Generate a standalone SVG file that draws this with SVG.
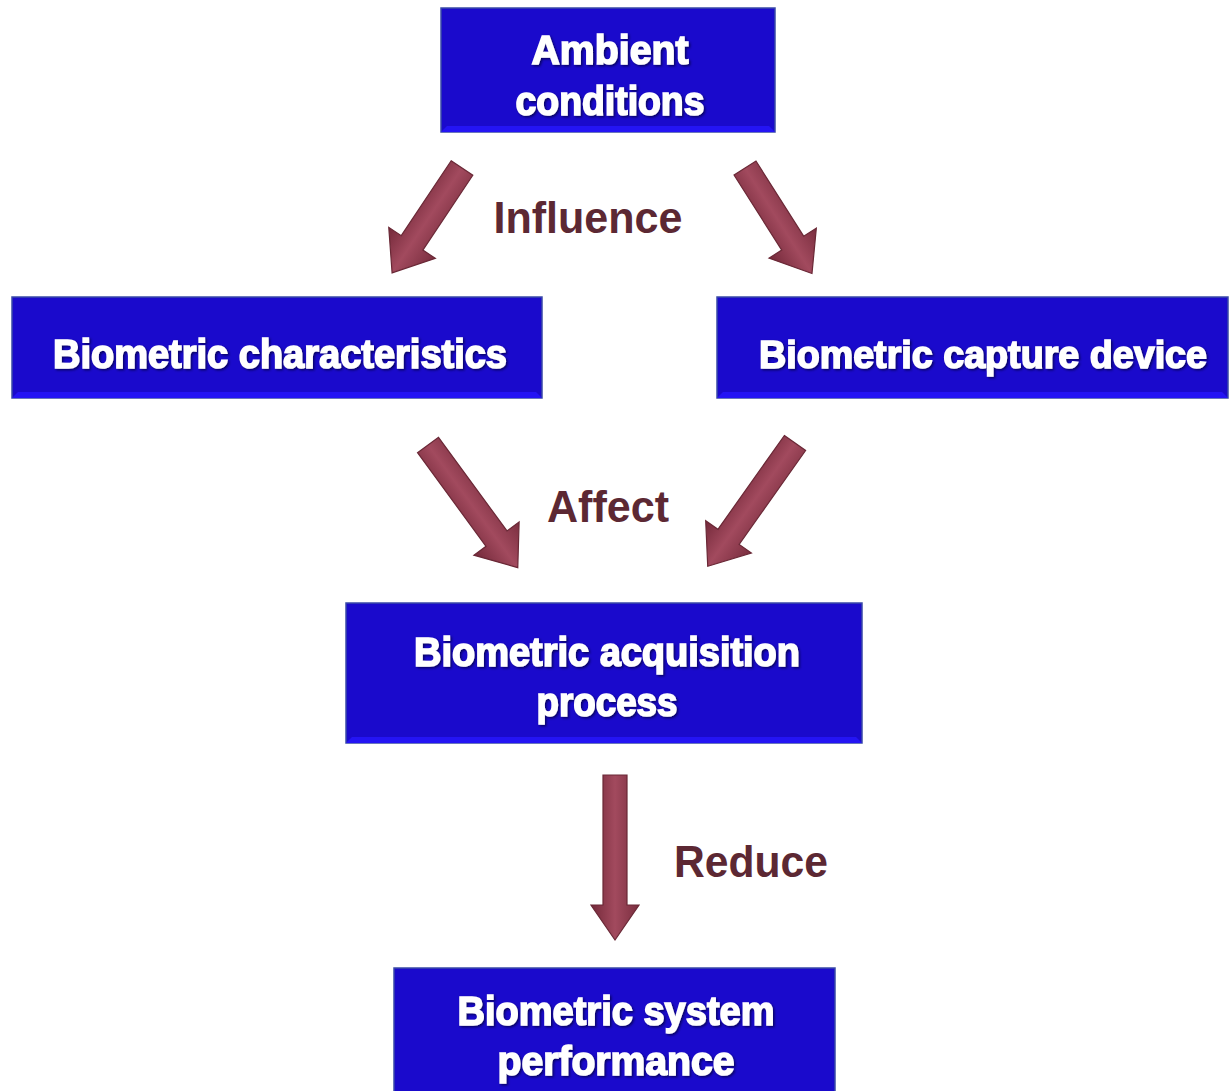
<svg xmlns="http://www.w3.org/2000/svg" width="1231" height="1091" viewBox="0 0 1231 1091">
<defs>
<style>
.box{fill:#1a0acc;stroke:#3a4aa8;stroke-width:1.5}
.bev{fill:#2414f4}
.nt{font-family:"Liberation Sans",Arial,sans-serif;font-weight:bold;font-size:40px;fill:#ffffff;stroke:#ffffff;stroke-width:1.6;text-anchor:middle;filter:url(#sh)}
.lb{font-family:"Liberation Sans",Arial,sans-serif;font-weight:bold;font-size:45px;fill:#5c2833;text-anchor:middle}
.arr{fill:url(#ag);stroke:#6a2836;stroke-width:1.2}
</style>
<filter id="sh" x="-5%" y="-20%" width="110%" height="140%">
<feDropShadow dx="1.5" dy="1.5" stdDeviation="1" flood-color="#000033" flood-opacity="0.7"/>
</filter>
<linearGradient id="ag" x1="0" y1="0" x2="1" y2="0">
<stop offset="0" stop-color="#74293a"/>
<stop offset="0.5" stop-color="#a24a5e"/>
<stop offset="1" stop-color="#7a2e3f"/>
</linearGradient>
</defs>
<rect width="1231" height="1091" fill="#ffffff"/>

<g id="connectors">
<path class="arr" transform="translate(462,168) rotate(33.7)" d="M -13 0 L 13 0 L 13 90 L 28 90 L 0 126 L -28 90 L -13 90 Z"/>
<path class="arr" transform="translate(745,168) rotate(-32.4)" d="M -13 0 L 13 0 L 13 89 L 28 89 L 0 125 L -28 89 L -13 89 Z"/>
<path class="arr" transform="translate(428,445) rotate(-36.2)" d="M -13 0 L 13 0 L 13 116 L 28 116 L 0 152 L -28 116 L -13 116 Z"/>
<path class="arr" transform="translate(795,443) rotate(35.3)" d="M -13 0 L 13 0 L 13 115 L 28 115 L 0 151 L -28 115 L -13 115 Z"/>
<path class="arr" transform="translate(615,775)" d="M -12 0 L 12 0 L 12 130 L 24 130 L 0 165 L -24 130 L -12 130 Z"/>
<text class="lb" x="588" y="233" textLength="189" lengthAdjust="spacingAndGlyphs">Influence</text>
<text class="lb" x="608" y="522" textLength="122" lengthAdjust="spacingAndGlyphs">Affect</text>
<text class="lb" x="751" y="877" textLength="154" lengthAdjust="spacingAndGlyphs">Reduce</text>
</g>

<g id="node-ambient">
<rect class="box" x="441" y="8" width="334" height="124"/>
<polygon class="bev" points="441,132 775,132 769,126 447,126"/>
<text class="nt" x="610" y="64" textLength="157" lengthAdjust="spacingAndGlyphs">Ambient</text>
<text class="nt" x="610" y="115" textLength="189" lengthAdjust="spacingAndGlyphs">conditions</text>
</g>

<g id="node-characteristics">
<rect class="box" x="12" y="297" width="530" height="101"/>
<polygon class="bev" points="12,398 542,398 536,392 18,392"/>
<text class="nt" x="280" y="368" textLength="454" lengthAdjust="spacingAndGlyphs">Biometric characteristics</text>
</g>

<g id="node-device">
<rect class="box" x="717" y="297" width="511" height="101"/>
<polygon class="bev" points="717,398 1228,398 1222,392 723,392"/>
<text class="nt" x="983" y="368" style="font-size:39px" textLength="448" lengthAdjust="spacingAndGlyphs">Biometric capture device</text>
</g>

<g id="node-acquisition">
<rect class="box" x="346" y="603" width="516" height="140"/>
<polygon class="bev" points="346,743 862,743 856,737 352,737"/>
<text class="nt" x="607" y="666" textLength="386" lengthAdjust="spacingAndGlyphs">Biometric acquisition</text>
<text class="nt" x="607" y="716" textLength="141" lengthAdjust="spacingAndGlyphs">process</text>
</g>

<g id="node-performance">
<rect class="box" x="394" y="968" width="441" height="130"/>
<text class="nt" x="616" y="1025" textLength="317" lengthAdjust="spacingAndGlyphs">Biometric system</text>
<text class="nt" x="616" y="1075" textLength="237" lengthAdjust="spacingAndGlyphs">performance</text>
</g>
</svg>
